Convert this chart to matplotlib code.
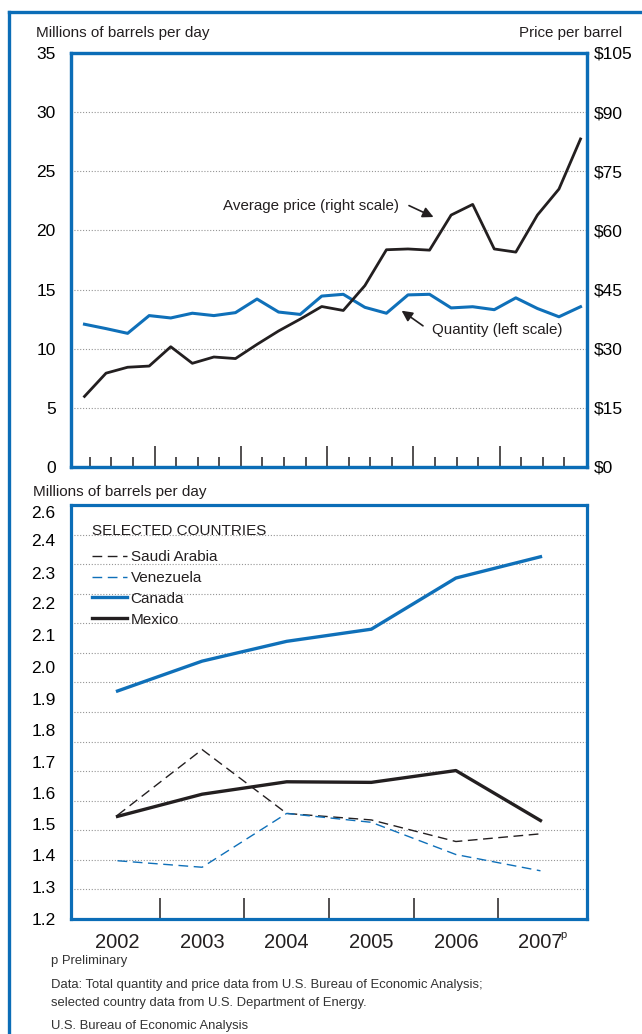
import matplotlib
matplotlib.use('Agg')
import matplotlib.pyplot as plt
from matplotlib.lines import Line2D

# quarterly totals, 2002Q1 - 2007Q4
quarters = list(range(24))
quantity = [12.07, 11.7, 11.3, 12.8, 12.6, 13.0, 12.8, 13.05, 14.2, 13.1, 12.9, 14.45,
            14.6, 13.5, 13.0, 14.55, 14.6, 13.45, 13.55, 13.3, 14.3, 13.4, 12.7, 13.55]
price = [17.9, 23.8, 25.3, 25.6, 30.5, 26.3, 27.9, 27.5, 31.1, 34.5, 37.5, 40.7,
         39.7, 46.0, 55.1, 55.3, 55.0, 63.9, 66.6, 55.3, 54.5, 63.9, 70.5, 83.2]

# selected countries, annual
years = ['2002', '2003', '2004', '2005', '2006', '2007']
saudi = [1.551, 1.773, 1.557, 1.535, 1.462, 1.488]
venezuela = [1.397, 1.375, 1.557, 1.527, 1.418, 1.363]
canada = [1.971, 2.072, 2.139, 2.180, 2.353, 2.425]
mexico = [1.547, 1.622, 1.664, 1.662, 1.702, 1.533]

left_ticks = [0, 5, 10, 15, 20, 25, 30, 35]
right_ticks = [0, 15, 30, 45, 60, 75, 90, 105]
country_grid = [1.3, 1.4, 1.5, 1.6, 1.7, 1.8, 1.9, 2.0, 2.1, 2.2, 2.3, 2.4, 2.5]
country_labels = ['1.2', '1.3', '1.4', '1.5', '1.6', '1.7', '1.8', '1.9', '2.0',
                  '2.1', '2.2', '2.3', '2.4', '2.6']
country_label_pos = [1.2, 1.309, 1.415, 1.521, 1.627, 1.732, 1.838, 1.944, 2.053,
                     2.162, 2.268, 2.371, 2.483, 2.575]

BLUE = '#0b6db7'
LBLUE = '#0f70b9'
BLACK = '#231f20'
GRID = '#959595'

plt.rcParams['font.family'] = ['Liberation Sans', 'DejaVu Sans']
plt.rcParams['text.color'] = BLACK

fig = plt.figure(figsize=(6.42, 10.34), dpi=100)
W, H = 642, 1034

# outer frame
fig.add_artist(Line2D([9 / W, 9 / W], [0, 1 - 12 / H], color=BLUE, lw=2.4))
fig.add_artist(Line2D([9 / W, 1], [1 - 12 / H, 1 - 12 / H], color=BLUE, lw=2.4))

def frame(ax):
    for s in ax.spines.values():
        s.set_color(BLUE)
        s.set_linewidth(2.3)

# ---------- top chart ----------
ax1 = fig.add_axes([71 / W, 1 - 467 / H, 516 / W, 414 / H])
ax2 = ax1.twinx()
frame(ax1)
frame(ax2)
ax1.set_xlim(-0.625, 23.3)
ax1.set_ylim(0, 35)
ax2.set_ylim(0, 105)
for g in left_ticks[1:-1]:
    ax1.axhline(g, color=GRID, lw=0.8, ls=(0, (1, 1.6)), zorder=1)
ax1.set_yticks(left_ticks)
ax1.set_yticklabels([str(t) for t in left_ticks], fontsize=12.5)
ax2.set_yticks(right_ticks)
ax2.set_yticklabels(['$' + str(t) for t in right_ticks], fontsize=12.5)
ax1.tick_params(axis='y', length=0, pad=11)
ax2.tick_params(axis='y', length=0, pad=5)

minor = [q + 0.25 for q in quarters[:-1] if (q + 1) % 4 != 0]
major = [q + 0.25 for q in quarters[:-1] if (q + 1) % 4 == 0]
ax1.set_xticks(major)
ax1.set_xticks(minor, minor=True)
ax1.set_xticklabels([])
ax1.tick_params(axis='x', which='major', direction='in', length=15, width=1.1,
                color=BLACK, labelbottom=False)
ax1.tick_params(axis='x', which='minor', direction='in', length=7, width=1.1,
                color=BLACK, labelbottom=False)

ax1.plot(quarters, quantity, color=LBLUE, lw=2.2, zorder=3)
ax2.plot(quarters, price, color=BLACK, lw=2.0, zorder=3)

ax2.text(14.6, 66.1, 'Average price (right scale)', ha='right', va='center',
         fontsize=10.9)
ax2.annotate('', xy=(16.3, 63.1), xytext=(14.93, 66.6),
             arrowprops=dict(arrowstyle='-|>', color=BLACK, lw=1.2, mutation_scale=16))
ax1.text(16.1, 11.55, 'Quantity (left scale)', ha='left', va='center',
         fontsize=10.9)
ax1.annotate('', xy=(14.6, 13.35), xytext=(15.8, 11.8),
             arrowprops=dict(arrowstyle='-|>', color=BLACK, lw=1.2, mutation_scale=16))

fig.text(36 / W, 1 - 33 / H, 'Millions of barrels per day', ha='left', va='center',
         fontsize=11)
fig.text(622 / W, 1 - 33 / H, 'Price per barrel', ha='right', va='center',
         fontsize=10.9)

# ---------- bottom chart ----------
ax3 = fig.add_axes([71 / W, 1 - 919 / H, 516 / W, 414 / H])
frame(ax3)
ax3.set_xlim(-0.55, 5.55)
ax3.set_ylim(1.2, 2.6)
ax3.hlines(country_grid, -0.55, 5.55, color=GRID, lw=0.8, ls=(0, (1, 1.6)), zorder=1)
ax3.set_yticks(country_label_pos)
ax3.set_yticklabels(country_labels, fontsize=12.5)
ax3.tick_params(axis='y', length=0, pad=11)
x = list(range(len(years)))
ax3.set_xticks([i + 0.5 for i in x[:-1]])
ax3.set_xticklabels([])
ax3.tick_params(axis='x', direction='in', length=15, width=1.1, color=BLACK)
for i, yr in enumerate(years):
    ax3.text(i, -0.035, yr, transform=ax3.get_xaxis_transform(), ha='center',
             va='top', fontsize=14.5)
ax3.text(5.24, -0.027, 'p', transform=ax3.get_xaxis_transform(), ha='left',
         va='top', fontsize=8)

ax3.plot(x, saudi, color=BLACK, lw=1.0, ls=(0, (7, 4)), label='Saudi Arabia', zorder=3)
ax3.plot(x, venezuela, color=LBLUE, lw=1.0, ls=(0, (7, 4)), label='Venezuela', zorder=3)
ax3.plot(x, canada, color=LBLUE, lw=2.4, label='Canada', zorder=3)
ax3.plot(x, mexico, color=BLACK, lw=2.4, label='Mexico', zorder=3)
leg = ax3.legend(loc='upper left', bbox_to_anchor=(0.028, 0.97), frameon=False,
                 title='SELECTED COUNTRIES', alignment='left', handlelength=2.3,
                 handletextpad=0.25, labelspacing=0.45, borderaxespad=0,
                 prop={'size': 11})
leg.get_title().set_fontsize(11)
leg._legend_box.sep = 9

fig.text(33 / W, 1 - 492 / H, 'Millions of barrels per day', ha='left', va='center',
         fontsize=11)

# ---------- footer ----------
foot = dict(ha='left', va='center', fontsize=9.35, color='#333333')
fig.text(51 / W, 1 - 961 / H, 'p Preliminary', **foot)
fig.text(51 / W, 1 - 985 / H, 'Data: Total quantity and price data from U.S. Bureau of Economic Analysis;', **foot)
fig.text(51 / W, 1 - 1003 / H, 'selected country data from U.S. Department of Energy.', **foot)
fig.text(51 / W, 1 - 1026 / H, 'U.S. Bureau of Economic Analysis', **foot)

fig.savefig('out.png', dpi=100)
